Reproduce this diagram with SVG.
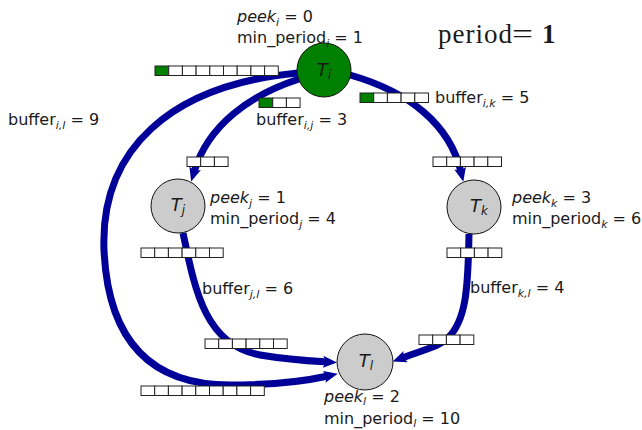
<svg xmlns="http://www.w3.org/2000/svg" width="642" height="430" viewBox="0 0 642 430">
<style>
.edge{fill:none;stroke:#000099;stroke-width:7;marker-end:url(#arr)}
.cell{stroke:#222;stroke-width:1}
#buffers use{fill:#fff}
#buffers use.g{fill:#008000}
.node{stroke:#111;stroke-width:1}
.lbl{font-family:"DejaVu Sans",sans-serif;font-size:16px;fill:#1a1a1a}
.it{font-style:italic}
.sub{font-size:11px;font-style:italic}
.nl{font-family:"DejaVu Sans",sans-serif;font-size:18px;font-style:italic;fill:#1a1a1a;text-anchor:middle}
.nsub{font-size:12px}
.ser{font-family:"Liberation Serif",serif;font-size:27px;fill:#1a1a1a}
</style>
<defs>
<marker id="arr" markerUnits="userSpaceOnUse" viewBox="0 0 14 12" refX="4" refY="6" markerWidth="14" markerHeight="12" orient="auto">
<path d="M0,0 L14,6 L0,12 L3,6 Z" fill="#000099"/>
</marker>
<rect id="c" width="13.7" height="9.5" class="cell"/>
</defs>
<g id="connectors">
<path id="e-il" class="edge" d="M298,73 C170,85 100,150 104,250 C108,340 150,385 230,385 C280,385 310,380 328,376"/>
<path id="e-ij" class="edge" d="M299,79 C250,95 208,125 194,172"/>
<path id="e-ik" class="edge" d="M350,75 C410,92 450,125 461,172"/>
<path id="e-jl" class="edge" d="M183,233 C195,290 205,345 260,355 C290,360 310,361 327,362"/>
<path id="e-kl" class="edge" d="M469,234 C468,290 466,320 448,338 C436,348 428,348 402,358"/>
</g>
<g id="buffers">
<g id="buf-il-src"><use href="#c" x="155" y="66" class="g"/><use href="#c" x="168.7" y="66"/><use href="#c" x="182.4" y="66"/><use href="#c" x="196.1" y="66"/><use href="#c" x="209.8" y="66"/><use href="#c" x="223.5" y="66"/><use href="#c" x="237.2" y="66"/><use href="#c" x="250.9" y="66"/><use href="#c" x="264.6" y="66"/></g>
<g id="buf-ij-src"><use href="#c" x="259" y="98" class="g"/><use href="#c" x="272.7" y="98"/><use href="#c" x="286.4" y="98"/></g>
<g id="buf-ik-src"><use href="#c" x="360" y="93" class="g"/><use href="#c" x="373.7" y="93"/><use href="#c" x="387.4" y="93"/><use href="#c" x="401.1" y="93"/><use href="#c" x="414.8" y="93"/></g>
<g id="buf-ij-dst"><use href="#c" x="187" y="157"/><use href="#c" x="200.7" y="157"/><use href="#c" x="214.4" y="157"/></g>
<g id="buf-ik-dst"><use href="#c" x="433" y="157"/><use href="#c" x="446.7" y="157"/><use href="#c" x="460.4" y="157"/><use href="#c" x="474.1" y="157"/><use href="#c" x="487.8" y="157"/></g>
<g id="buf-jl-src"><use href="#c" x="141" y="248"/><use href="#c" x="154.7" y="248"/><use href="#c" x="168.4" y="248"/><use href="#c" x="182.1" y="248"/><use href="#c" x="195.8" y="248"/><use href="#c" x="209.5" y="248"/></g>
<g id="buf-jl-dst"><use href="#c" x="205" y="339"/><use href="#c" x="218.7" y="339"/><use href="#c" x="232.4" y="339"/><use href="#c" x="246.1" y="339"/><use href="#c" x="259.8" y="339"/><use href="#c" x="273.5" y="339"/></g>
<g id="buf-kl-src"><use href="#c" x="447" y="248"/><use href="#c" x="460.7" y="248"/><use href="#c" x="474.4" y="248"/><use href="#c" x="488.1" y="248"/></g>
<g id="buf-kl-dst"><use href="#c" x="419" y="335"/><use href="#c" x="432.7" y="335"/><use href="#c" x="446.4" y="335"/><use href="#c" x="460.1" y="335"/></g>
<g id="buf-il-dst"><use href="#c" x="141" y="386"/><use href="#c" x="154.7" y="386"/><use href="#c" x="168.4" y="386"/><use href="#c" x="182.1" y="386"/><use href="#c" x="195.8" y="386"/><use href="#c" x="209.5" y="386"/><use href="#c" x="223.2" y="386"/><use href="#c" x="236.9" y="386"/><use href="#c" x="250.6" y="386"/></g>
</g>
<g id="node-Ti">
<circle class="node" cx="324" cy="70" r="27" fill="#008000"/>
<text class="nl" x="324" y="76">T<tspan class="nsub" dy="3">i</tspan></text>
<text class="lbl" x="237" y="22"><tspan class="it">peek</tspan><tspan class="sub" dy="4">i</tspan><tspan dy="-4"> = 0</tspan></text>
<text class="lbl" x="237" y="43">min_period<tspan class="sub" dy="4">i</tspan><tspan dy="-4"> = 1</tspan></text>
</g>
<g id="node-Tj">
<circle class="node" cx="178" cy="206" r="27" fill="#cccccc"/>
<text class="nl" x="178" y="211">T<tspan class="nsub" dy="3">j</tspan></text>
<text class="lbl" x="210" y="203"><tspan class="it">peek</tspan><tspan class="sub" dy="4">j</tspan><tspan dy="-4"> = 1</tspan></text>
<text class="lbl" x="210" y="224">min_period<tspan class="sub" dy="4">j</tspan><tspan dy="-4"> = 4</tspan></text>
</g>
<g id="node-Tk">
<circle class="node" cx="474" cy="207" r="27" fill="#cccccc"/>
<text class="nl" x="479" y="212">T<tspan class="nsub" dy="3">k</tspan></text>
<text class="lbl" x="512" y="203"><tspan class="it">peek</tspan><tspan class="sub" dy="4">k</tspan><tspan dy="-4"> = 3</tspan></text>
<text class="lbl" x="512" y="224">min_period<tspan class="sub" dy="4">k</tspan><tspan dy="-4"> = 6</tspan></text>
</g>
<g id="node-Tl">
<circle class="node" cx="365" cy="362" r="28" fill="#cccccc"/>
<text class="nl" x="366" y="367">T<tspan class="nsub" dy="3">l</tspan></text>
<text class="lbl" x="324" y="402"><tspan class="it">peek</tspan><tspan class="sub" dy="3">l</tspan><tspan dy="-3"> = 2</tspan></text>
<text class="lbl" x="324" y="424">min_period<tspan class="sub" dy="3">l</tspan><tspan dy="-3"> = 10</tspan></text>
</g>
<g id="edge-labels">
<text class="lbl" x="8" y="125">buffer<tspan class="sub" dy="4">i,l</tspan><tspan dy="-4"> = 9</tspan></text>
<text class="lbl" x="256" y="125">buffer<tspan class="sub" dy="4">i,j</tspan><tspan dy="-4"> = 3</tspan></text>
<text class="lbl" x="435" y="103">buffer<tspan class="sub" dy="4">i,k</tspan><tspan dy="-4"> = 5</tspan></text>
<text class="lbl" x="202" y="294">buffer<tspan class="sub" dy="4">j,l</tspan><tspan dy="-4"> = 6</tspan></text>
<text class="lbl" x="470" y="293">buffer<tspan class="sub" dy="4">k,l</tspan><tspan dy="-4"> = 4</tspan></text>
</g>
<g id="title">
<text class="ser" x="438" y="43" textLength="74" lengthAdjust="spacing">period</text>
<text class="ser" x="512" y="43" textLength="21" lengthAdjust="spacingAndGlyphs">=</text>
<text class="ser" x="542" y="43" font-weight="bold">1</text>
</g>
</svg>
